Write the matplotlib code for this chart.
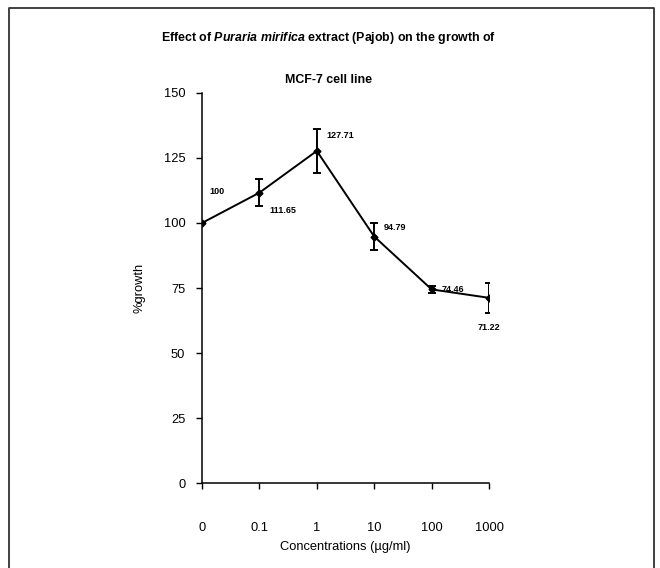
import numpy as np
import matplotlib
matplotlib.use("Agg")
import matplotlib.pyplot as plt

plt.rcParams['font.family'] = ['Liberation Sans', 'DejaVu Sans']
plt.rcParams['mathtext.fontset'] = 'custom'
plt.rcParams['mathtext.it'] = 'Liberation Sans:italic:bold'
plt.rcParams['mathtext.rm'] = 'Liberation Sans:bold'

# data
conc_labels = ['0', '0.1', '1', '10', '100', '1000']
growth = [100, 111.65, 127.71, 94.79, 74.46, 71.22]
growth_err = [0, 5.3, 8.6, 5.2, 1.3, 5.7]
label_text = ['100', '111.65', '127.71', '94.79', '74.46', '71.22']
# offsets (points) for the value labels
label_off = [(11, 23), (17, -13), (17, 11), (15, 6.5), (15, 0), (0, -21)]

x = np.arange(len(conc_labels))

fig = plt.figure(figsize=(6.6, 5.68), dpi=100)

# frame round the figure (open at the bottom like the scan)
fig.add_artist(plt.Line2D([0.014, 0.014, 0.991, 0.991], [0.0, 0.986, 0.986, 0.0],
                          transform=fig.transFigure, color='#333333', lw=1.3))

ax = fig.add_axes([0.306, 0.1496, 0.435, 0.6867])
ax.errorbar(x, growth, yerr=growth_err, color='black', lw=1.4,
            marker='D', markersize=3.5, capsize=2.6, elinewidth=1.4, capthick=1.4)

for xi, yi, t, off in zip(x, growth, label_text, label_off):
    ax.annotate(t, (xi, yi), xytext=off, textcoords='offset points',
                ha='center', va='center', fontsize=6.5, fontweight='bold')

ax.set_xlim(0, 5)
ax.set_ylim(0, 150)
ax.set_yticks([0, 25, 50, 75, 100, 125, 150])
ax.set_xticks(x)
ax.set_xticklabels(conc_labels)
ax.tick_params(axis='y', direction='out', length=4, width=1, labelsize=9.3, pad=8)
ax.tick_params(axis='x', direction='out', length=4, width=1, labelsize=9.3, pad=24)
for s in ['top', 'right']:
    ax.spines[s].set_visible(False)
for s in ['left', 'bottom']:
    ax.spines[s].set_linewidth(1.1)

ax.set_xlabel('Concentrations (\u00b5g/ml)', fontsize=9.3, labelpad=5)
ax.set_ylabel('%growth', fontsize=9.3, labelpad=13)

fig.text(0.497, 0.933, 'Effect of $\\mathit{Puraria\\ mirifica}$ extract (Pajob) on the growth of',
         ha='center', va='center', fontsize=8.9, fontweight='bold')
fig.text(0.497, 0.859, 'MCF-7 cell line', ha='center', va='center',
         fontsize=8.9, fontweight='bold')

fig.savefig('out.png', dpi=100, facecolor='white')
